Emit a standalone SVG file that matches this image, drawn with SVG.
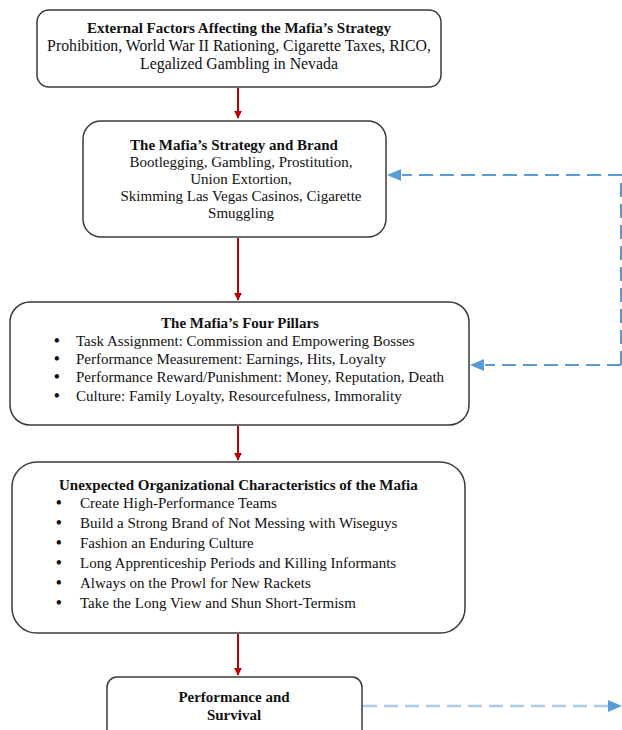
<svg xmlns="http://www.w3.org/2000/svg" width="622" height="730" viewBox="0 0 622 730">
<style>
.box{fill:#fff;stroke:#3a3a3a;stroke-width:1.5}
text{font-family:"Liberation Serif","Times New Roman",serif;font-size:15px;fill:#111}
.t{font-weight:bold;font-size:15px}
.big{font-size:15.8px}
.c{text-anchor:middle}
.b{font-weight:bold;font-size:16px}
.red{stroke:#c00000;stroke-width:2;fill:none}
.blue{stroke:#5b9bd5;stroke-width:2;fill:none;stroke-dasharray:14 7}
.lblue{stroke:#a8cbea;stroke-width:2.5;fill:none;stroke-dasharray:14 7}
</style>
<defs>
<marker id="ar" viewBox="0 0 10 10" refX="9" refY="5" markerWidth="4" markerHeight="4" orient="auto"><path d="M0,0L10,5L0,10z" fill="#c00000"/></marker>
</defs>
<g id="connectors">
<line class="red" x1="238" y1="88" x2="238" y2="118" marker-end="url(#ar)"/>
<line class="red" x1="238" y1="238" x2="238" y2="300" marker-end="url(#ar)"/>
<line class="red" x1="238" y1="426" x2="238" y2="460" marker-end="url(#ar)"/>
<line class="red" x1="238" y1="634" x2="238" y2="675" marker-end="url(#ar)"/>
<path class="blue" d="M621,365V175H402"/>
<path d="M387,175L401,169V181z" fill="#5b9bd5"/>
<path class="blue" d="M621,365H485"/>
<path d="M470,365L484,359V371z" fill="#5b9bd5"/>
<path class="lblue" d="M363,706H608"/>
<path d="M622,706L608,700V712z" fill="#5b9bd5"/>
</g>
<g id="n1">
<rect class="box" x="37" y="10" width="404" height="77" rx="12"/>
<text class="c t" x="239" y="33">External Factors Affecting the Mafia’s Strategy</text>
<text class="c big" x="239" y="51">Prohibition, World War II Rationing, Cigarette Taxes, RICO,</text>
<text class="c big" x="239" y="69">Legalized Gambling in Nevada</text>
</g>
<g id="n2">
<rect class="box" x="83" y="121" width="303" height="116" rx="18"/>
<text class="c t" x="234" y="150">The Mafia’s Strategy and Brand</text>
<text class="c" x="241" y="167">Bootlegging, Gambling, Prostitution,</text>
<text class="c" x="241" y="184">Union Extortion,</text>
<text class="c" x="241" y="201">Skimming Las Vegas Casinos, Cigarette</text>
<text class="c" x="241" y="218">Smuggling</text>
</g>
<g id="n3">
<rect class="box" x="10" y="302" width="459" height="123" rx="20"/>
<text class="c t" x="240" y="328">The Mafia’s Four Pillars</text>
<text class="b" x="54" y="346">•</text><text x="76" y="346">Task Assignment: Commission and Empowering Bosses</text>
<text class="b" x="54" y="364">•</text><text x="76" y="364">Performance Measurement: Earnings, Hits, Loyalty</text>
<text class="b" x="54" y="382">•</text><text x="76" y="382">Performance Reward/Punishment: Money, Reputation, Death</text>
<text class="b" x="54" y="401">•</text><text x="76" y="401">Culture: Family Loyalty, Resourcefulness, Immorality</text>
</g>
<g id="n4">
<rect class="box" x="12" y="462" width="453" height="171" rx="25"/>
<text class="t" x="59" y="490">Unexpected Organizational Characteristics of the Mafia</text>
<text class="b" x="56" y="508">•</text><text x="80" y="508">Create High-Performance Teams</text>
<text class="b" x="56" y="528">•</text><text x="80" y="528">Build a Strong Brand of Not Messing with Wiseguys</text>
<text class="b" x="56" y="548">•</text><text x="80" y="548">Fashion an Enduring Culture</text>
<text class="b" x="56" y="568">•</text><text x="80" y="568">Long Apprenticeship Periods and Killing Informants</text>
<text class="b" x="56" y="588">•</text><text x="80" y="588">Always on the Prowl for New Rackets</text>
<text class="b" x="56" y="608">•</text><text x="80" y="608">Take the Long View and Shun Short-Termism</text>
</g>
<g id="n5">
<rect class="box" x="107" y="677" width="255" height="70" rx="10"/>
<text class="c t" x="234" y="702">Performance and</text>
<text class="c t" x="234" y="720">Survival</text>
</g>
</svg>
